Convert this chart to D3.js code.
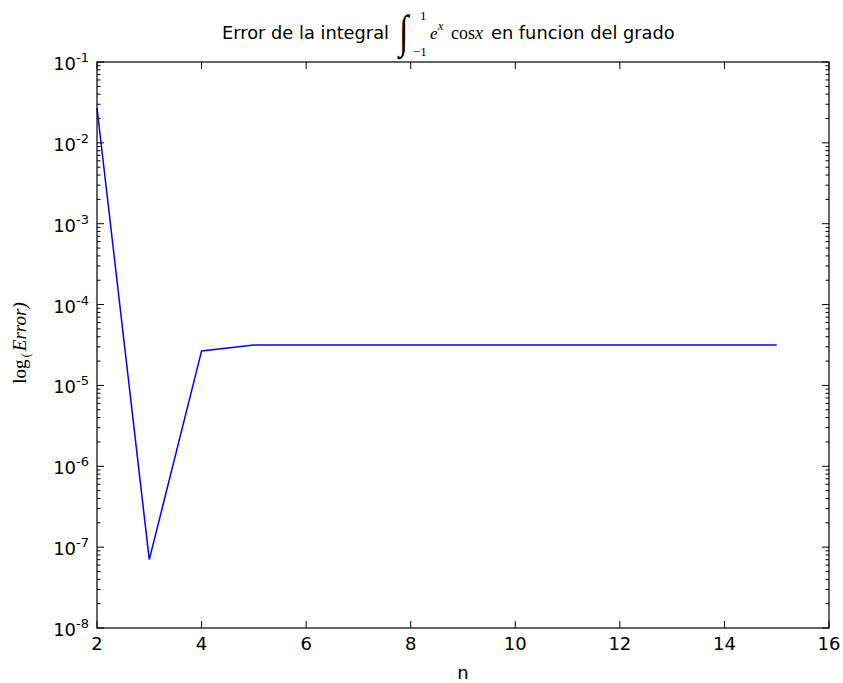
<!DOCTYPE html>
<html>
<head>
<meta charset="utf-8">
<script src="https://cdn.jsdelivr.net/npm/d3@7"></script>
<style>
  body { margin: 0; background: #fff; }
  svg { display: block; }
</style>
</head>
<body>
<svg id="chart" width="843" height="683"></svg>
<script>
const nValues = [2, 3, 4, 5, 6, 7, 8, 9, 10, 11, 12, 13, 14, 15];
const errorValues = [2.7e-2, 7.0e-8, 2.67e-5, 3.17e-5, 3.17e-5, 3.17e-5, 3.17e-5, 3.17e-5, 3.17e-5, 3.17e-5, 3.17e-5, 3.17e-5, 3.17e-5, 3.17e-5];
const xTicks = [2, 4, 6, 8, 10, 12, 14, 16];
const yExponents = [-1, -2, -3, -4, -5, -6, -7, -8];

const svg = d3.select("#chart");
const L = 97, R = 829, T = 62, B = 628;
const x = d3.scaleLinear().domain([2, 16]).range([L, R]);
const y = d3.scaleLog().domain([1e-8, 1e-1]).range([B, T]);

svg.append("rect").attr("x", 0).attr("y", 0).attr("width", 843).attr("height", 683).attr("fill", "#fff");

// line
const line = d3.line().x((d, i) => x(nValues[i])).y(d => y(d));
svg.append("path").datum(errorValues)
  .attr("d", line).attr("fill", "none")
  .attr("stroke", "#0000ff").attr("stroke-width", 1.5);

// frame
svg.append("rect").attr("x", L).attr("y", T).attr("width", R - L).attr("height", B - T)
  .attr("fill", "none").attr("stroke", "#000").attr("stroke-width", 1.2);

const tickG = svg.append("g").attr("stroke", "#000").attr("stroke-width", 1);
xTicks.forEach(t => {
  tickG.append("line").attr("x1", x(t)).attr("x2", x(t)).attr("y1", B).attr("y2", B - 7);
  tickG.append("line").attr("x1", x(t)).attr("x2", x(t)).attr("y1", T).attr("y2", T + 7);
});
for (let e = -8; e <= -1; e++) {
  const v = Math.pow(10, e);
  tickG.append("line").attr("x1", L).attr("x2", L + 7).attr("y1", y(v)).attr("y2", y(v));
  tickG.append("line").attr("x1", R).attr("x2", R - 7).attr("y1", y(v)).attr("y2", y(v));
  if (e < -1) {
    for (let m = 2; m <= 9; m++) {
      const mv = m * v;
      tickG.append("line").attr("x1", L).attr("x2", L + 3.5).attr("y1", y(mv)).attr("y2", y(mv));
      tickG.append("line").attr("x1", R).attr("x2", R - 3.5).attr("y1", y(mv)).attr("y2", y(mv));
    }
  }
}

const font = "DejaVu Sans, sans-serif";
xTicks.forEach(t => {
  svg.append("text").attr("x", x(t)).attr("y", B + 22)
    .attr("text-anchor", "middle").attr("font-family", font).attr("font-size", 18)
    .attr("fill", "#000").text(t);
});
yExponents.forEach(e => {
  const tx = svg.append("text").attr("x", L - 8).attr("y", y(Math.pow(10, e)) + 8)
    .attr("text-anchor", "end").attr("font-family", font).attr("font-size", 18).attr("fill", "#000");
  tx.append("tspan").text("10");
  tx.append("tspan").attr("dy", -8).attr("font-size", 13).text("-" + Math.abs(e));
});

// x label
svg.append("text").attr("x", (L + R) / 2).attr("y", 679).attr("text-anchor", "middle")
  .attr("font-family", font).attr("font-size", 18).attr("fill", "#000").text("n");

// y label
const yl = svg.append("text").attr("transform", "translate(26,343) rotate(-90)")
  .attr("text-anchor", "middle").attr("font-family", "Liberation Serif, serif").attr("font-size", 19).attr("fill", "#000");
yl.append("tspan").text("log");
yl.append("tspan").attr("dy", 4).attr("dx", 2).attr("font-size", 13).text("(");
yl.append("tspan").attr("dy", -4).attr("dx", 2).attr("font-style", "italic").text("Error)");

// title
const serif = "Liberation Serif, serif";
const tg = svg.append("g").attr("font-family", font).attr("fill", "#000");
tg.append("text").attr("x", 389).attr("y", 39).attr("text-anchor", "end").attr("font-size", 17.8).text("Error de la integral");
tg.append("text").attr("transform", "translate(399,47) scale(1,1.35)").attr("font-family", serif).attr("font-size", 34).text("\u222B");
tg.append("text").attr("x", 420).attr("y", 20).attr("font-family", serif).attr("font-size", 13).text("1");
tg.append("text").attr("x", 413).attr("y", 56).attr("font-family", serif).attr("font-size", 13).text("\u22121");
tg.append("text").attr("x", 430).attr("y", 39).attr("font-family", serif).attr("font-size", 17).attr("font-style", "italic").text("e");
tg.append("text").attr("x", 438).attr("y", 30).attr("font-family", serif).attr("font-size", 12).attr("font-style", "italic").text("x");
const cs = tg.append("text").attr("x", 451).attr("y", 39).attr("font-family", serif).attr("font-size", 18);
cs.append("tspan").text("cos");
cs.append("tspan").attr("font-style", "italic").text("x");
tg.append("text").attr("x", 491).attr("y", 39).attr("font-size", 17.8).text("en funcion del grado");
</script>
</body>
</html>
